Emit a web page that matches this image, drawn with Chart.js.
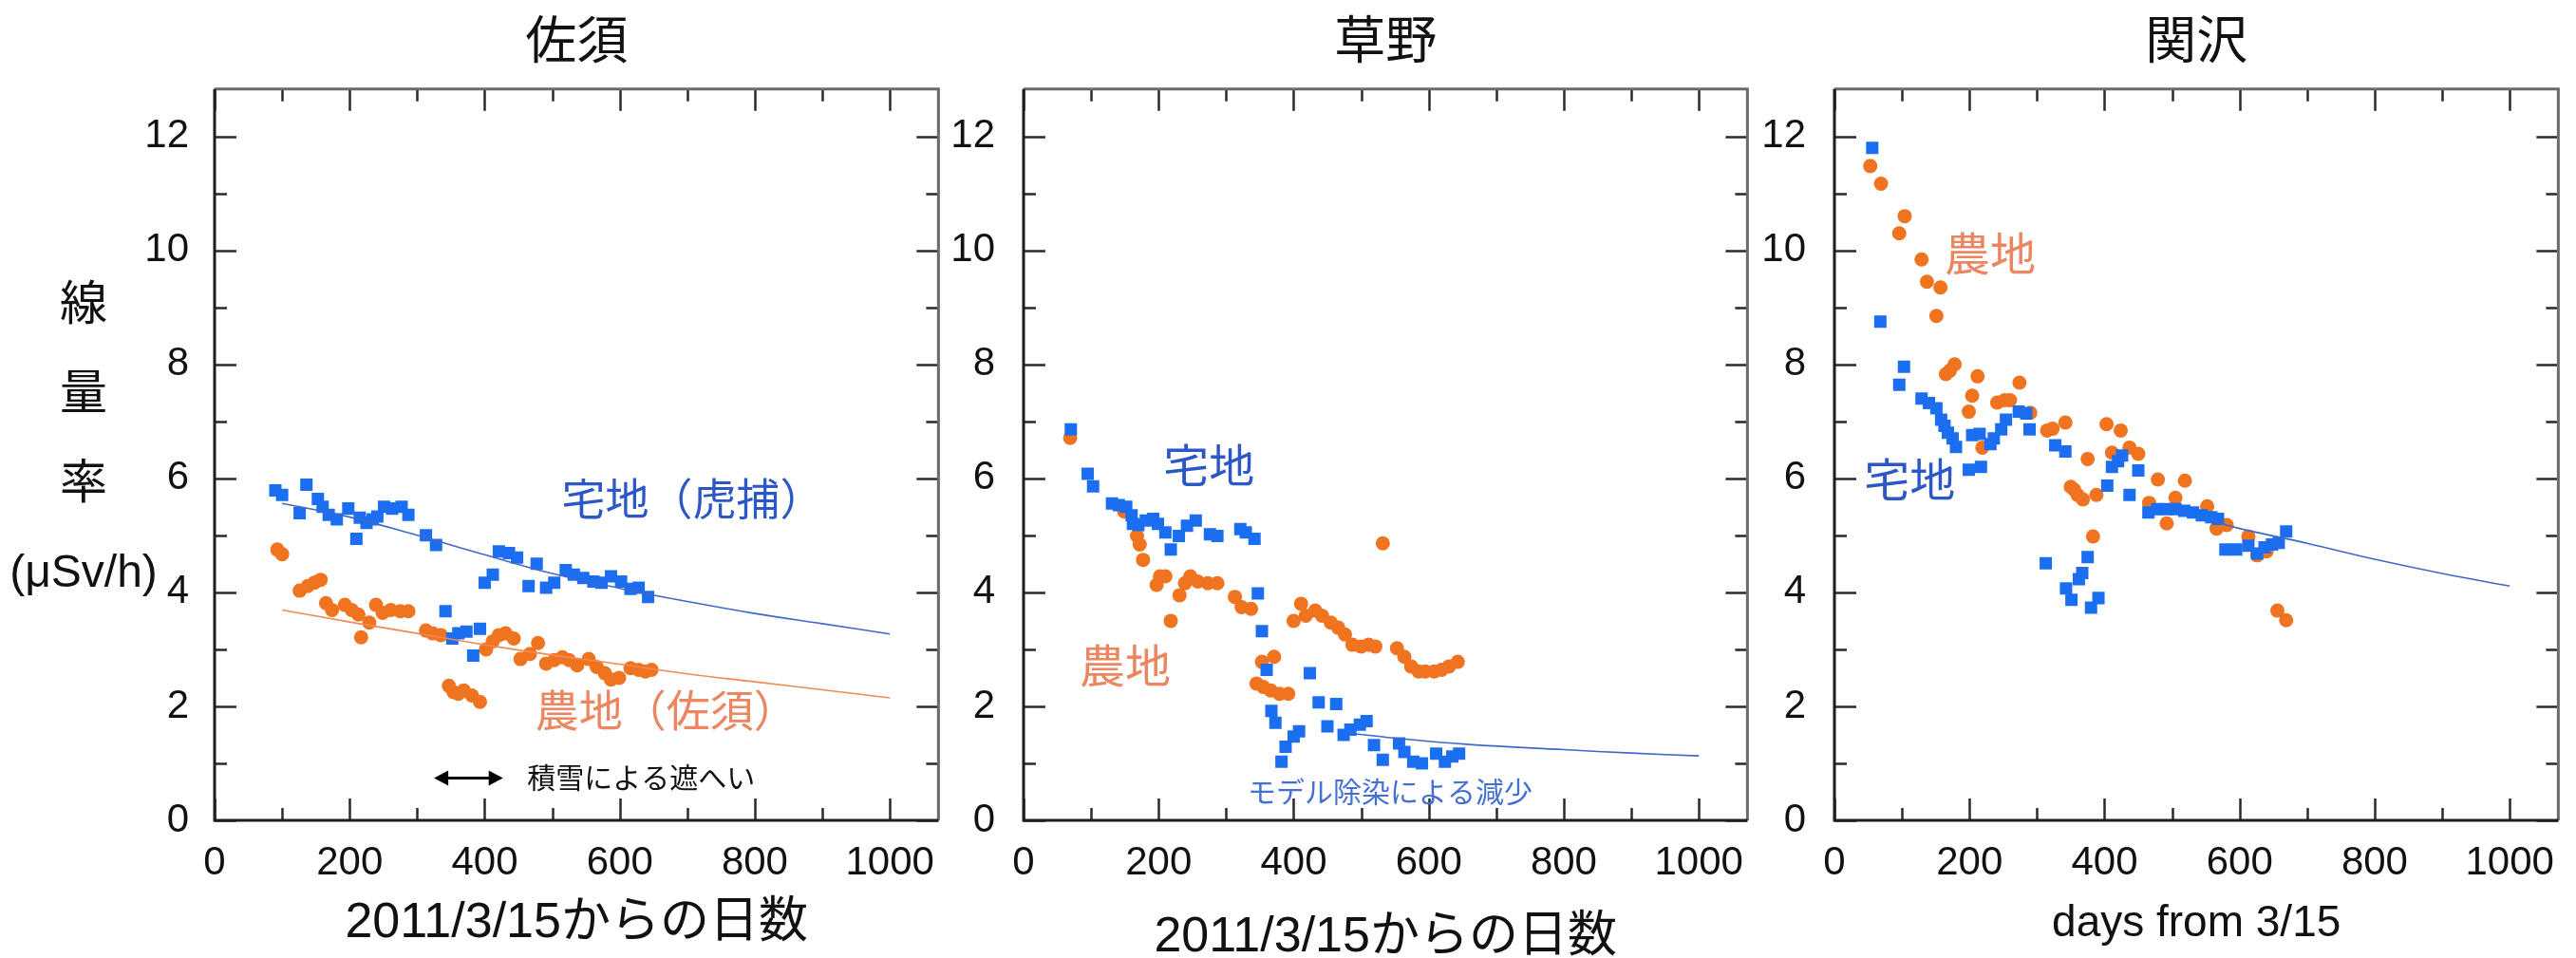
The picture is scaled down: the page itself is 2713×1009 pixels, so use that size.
<!DOCTYPE html>
<html>
<head>
<meta charset="utf-8">
<script src="https://cdn.jsdelivr.net/npm/chart.js@4.4.1/dist/chart.umd.min.js"></script>
<style>
  html, body { margin: 0; padding: 0; background: #fff; overflow: hidden; width: 2713px; height: 1009px; }
  canvas { position: absolute; top: 0; }
</style>
</head>
<body>
<canvas id="sasu" width="1005" height="1040" style="left:0px"></canvas>
<canvas id="kusano" width="859" height="1040" style="left:998px"></canvas>
<canvas id="sekizawa" width="859" height="1040" style="left:1852px"></canvas>
<script>
// ---- axes ----
const xMajorTicks = [0, 200, 400, 600, 800, 1000];
const xMinorTicks = [100, 300, 500, 700, 900];
const yMajorTicks = [0, 2, 4, 6, 8, 10, 12];
const yMinorTicks = [1, 3, 5, 7, 9, 11];
const xMax = 1072;
const yMax = 12.83;

// ---- 佐須 ----
const sasuHouseDays = [90,100,126,136,153,160,169,181,198,210,215,225,234,241,251,263,277,287,313,328,342,352,361,373,383,393,400,412,421,436,448,465,477,491,503,520,532,546,561,573,587,602,616,628,642];
const sasuHouseRate = [5.79,5.71,5.39,5.89,5.64,5.5,5.36,5.28,5.47,4.94,5.31,5.22,5.28,5.33,5.5,5.47,5.5,5.36,5.0,4.83,3.67,3.19,3.28,3.31,2.89,3.36,4.17,4.31,4.72,4.69,4.61,4.11,4.5,4.08,4.17,4.39,4.31,4.25,4.19,4.17,4.28,4.19,4.06,4.08,3.92];
const sasuFarmDays = [93,100,126,138,148,157,165,174,193,203,213,217,229,239,249,261,275,287,313,323,335,347,354,361,369,381,393,402,412,421,431,443,453,467,479,491,503,515,525,537,554,566,578,587,599,616,628,638,647];
const sasuFarmRate = [4.75,4.67,4.03,4.11,4.17,4.22,3.81,3.69,3.78,3.69,3.61,3.21,3.47,3.78,3.64,3.69,3.67,3.67,3.33,3.28,3.25,2.36,2.25,2.22,2.28,2.19,2.08,3.0,3.14,3.25,3.28,3.19,2.83,2.92,3.11,2.75,2.81,2.86,2.81,2.72,2.83,2.69,2.58,2.47,2.5,2.67,2.64,2.61,2.64];
const sasuHouseFitDays = [100,200,300,400,500,600,700,800,900,1000];
const sasuHouseFitRate = [5.56,5.32,5.0,4.66,4.33,4.07,3.84,3.63,3.45,3.27];
const sasuFarmFitDays = [100,200,300,400,500,600,700,800,900,1000];
const sasuFarmFitRate = [3.69,3.48,3.28,3.08,2.9,2.74,2.57,2.43,2.29,2.15];

// ---- 草野 ----
const kusanoHouseDays = [70,95,103,131,141,152,160,162,170,181,192,199,210,218,230,242,255,276,287,321,329,342,347,353,360,367,373,382,388,400,408,424,437,450,463,474,484,498,508,519,532,556,564,577,590,611,624,635,645];
const kusanoHouseRate = [6.86,6.08,5.86,5.56,5.53,5.5,5.35,5.2,5.18,5.26,5.29,5.2,5.05,4.75,4.99,5.17,5.26,5.02,4.99,5.11,5.05,4.94,3.98,3.32,2.64,1.92,1.71,1.03,1.29,1.47,1.56,2.58,2.07,1.65,2.04,1.5,1.59,1.68,1.74,1.32,1.06,1.35,1.2,1.03,1.0,1.17,1.03,1.12,1.17];
const kusanoFarmDays = [69,149,168,172,177,197,202,210,218,231,239,247,258,273,287,313,323,337,345,353,355,366,371,379,392,400,411,418,432,442,455,466,476,487,500,511,521,532,553,564,574,585,595,608,619,630,643];
const kusanoFarmRate = [6.71,5.42,4.99,4.84,4.57,4.13,4.28,4.28,3.5,3.95,4.16,4.28,4.19,4.16,4.16,3.92,3.74,3.71,2.4,2.78,2.34,2.28,2.87,2.22,2.22,3.5,3.8,3.59,3.68,3.59,3.47,3.38,3.26,3.08,3.05,3.08,3.05,4.86,3.02,2.87,2.7,2.61,2.61,2.61,2.64,2.7,2.78];
const kusanoHouseFitDays = [490,560,660,800,900,1000];
const kusanoHouseFitRate = [1.52,1.43,1.33,1.24,1.18,1.13];

// ---- 関沢 ----
const sekiHouseDays = [56,68,96,103,129,140,151,158,163,168,175,180,199,204,215,217,231,236,247,254,273,284,289,313,327,342,343,351,362,367,375,380,391,404,411,420,426,437,450,465,478,492,505,518,531,544,558,568,579,595,613,626,637,648,658,669];
const sekiHouseRate = [11.8,8.75,7.64,7.96,7.4,7.32,7.23,7.03,6.92,6.8,6.7,6.55,6.15,6.76,6.78,6.2,6.6,6.7,6.86,7.03,7.17,7.14,6.86,4.51,6.58,6.47,4.07,3.87,4.23,4.34,4.62,3.73,3.9,5.87,6.2,6.3,6.4,5.71,6.14,5.4,5.46,5.46,5.46,5.43,5.4,5.35,5.32,5.29,4.75,4.75,4.82,4.68,4.79,4.84,4.87,5.07];
const sekiFarmDays = [53,69,96,104,129,137,151,157,165,171,178,199,204,212,219,241,252,260,274,290,315,323,342,350,355,360,368,375,383,388,403,411,424,437,450,466,479,492,505,519,552,566,581,613,626,640,656,669];
const sekiFarmRate = [11.48,11.17,10.3,10.6,9.84,9.45,8.85,9.35,7.83,7.89,8.0,7.17,7.45,7.79,6.54,7.33,7.37,7.37,7.68,7.15,6.84,6.87,6.98,5.85,5.8,5.71,5.63,6.34,4.98,5.71,6.95,6.45,6.84,6.54,6.43,5.57,5.98,5.21,5.66,5.96,5.51,5.12,5.18,4.98,4.65,4.72,3.68,3.51];
const sekiHouseFitDays = [560,600,700,800,900,1000];
const sekiHouseFitRate = [5.25,5.12,4.86,4.58,4.33,4.11];

// ---- styling ----
const FONT = "'Liberation Sans', 'Noto Sans CJK JP', sans-serif";
const BLUE = '#1b6ef0';
const ORANGE = '#f0731f';
const BLUE_TEXT = '#2b58c6';
const ORANGE_TEXT = '#ec8660';

const pts = (xs, ys) => xs.map((d, i) => ({ x: d, y: ys[i] }));

function houseSet(xs, ys) {
  return { type: 'scatter', data: pts(xs, ys), pointStyle: 'rect', pointRadius: 9.2,
           backgroundColor: BLUE, borderWidth: 0, order: 2 };
}
function farmSet(xs, ys) {
  return { type: 'scatter', data: pts(xs, ys), pointStyle: 'circle', pointRadius: 7.5,
           backgroundColor: ORANGE, borderWidth: 0, order: 3 };
}
function fitSet(xs, ys, color) {
  return { type: 'line', data: pts(xs, ys), borderColor: color, borderWidth: 1.6,
           pointRadius: 0, tension: 0.4, fill: false, order: 1 };
}

// frame, inward ticks and in-plot labels
const decor = {
  id: 'decor',
  beforeDatasetsDraw(chart) {
    const { ctx, chartArea: a, scales: { x, y } } = chart;
    ctx.save();
    ctx.lineCap = 'butt';
    ctx.strokeStyle = '#2a2a2a';
    ctx.lineWidth = 2.5;
    const tx = (vals, len) => vals.forEach(v => {
      const p = Math.round(x.getPixelForValue(v)) + 0.5;
      ctx.beginPath();
      ctx.moveTo(p, a.bottom); ctx.lineTo(p, a.bottom - len);
      ctx.moveTo(p, a.top); ctx.lineTo(p, a.top + len);
      ctx.stroke();
    });
    const ty = (vals, len) => vals.forEach(v => {
      const p = Math.round(y.getPixelForValue(v)) + 0.5;
      ctx.beginPath();
      ctx.moveTo(a.left, p); ctx.lineTo(a.left + len, p);
      ctx.moveTo(a.right, p); ctx.lineTo(a.right - len, p);
      ctx.stroke();
    });
    tx(xMajorTicks, 23); tx(xMinorTicks, 13);
    ty(yMajorTicks, 23); ty(yMinorTicks, 13);
    ctx.lineWidth = 3;
    ctx.strokeStyle = '#6a6a6a';
    ctx.beginPath();
    ctx.moveTo(a.left, a.top); ctx.lineTo(a.right, a.top); ctx.lineTo(a.right, a.bottom);
    ctx.stroke();
    ctx.strokeStyle = '#1e1e1e';
    ctx.beginPath();
    ctx.moveTo(a.left, a.top); ctx.lineTo(a.left, a.bottom); ctx.lineTo(a.right, a.bottom);
    ctx.stroke();
    ctx.restore();
  },
  afterDatasetsDraw(chart, args, opts) {
    const { ctx, chartArea: a, scales: { x, y } } = chart;
    ctx.save();
    ctx.textBaseline = 'middle';
    (opts.labels || []).forEach(l => {
      ctx.font = `${l.size}px ${FONT}`;
      ctx.fillStyle = l.color;
      ctx.textAlign = 'left';
      ctx.fillText(l.text, x.getPixelForValue(l.x), y.getPixelForValue(l.y));
    });
    if (opts.arrow) {
      const { from, to, at } = opts.arrow;
      const x1 = x.getPixelForValue(from), x2 = x.getPixelForValue(to), py = y.getPixelForValue(at);
      ctx.strokeStyle = '#000'; ctx.fillStyle = '#000'; ctx.lineWidth = 3;
      ctx.beginPath(); ctx.moveTo(x1 + 6, py); ctx.lineTo(x2 - 6, py); ctx.stroke();
      ctx.beginPath(); ctx.moveTo(x1, py); ctx.lineTo(x1 + 15, py - 8); ctx.lineTo(x1 + 15, py + 8); ctx.closePath(); ctx.fill();
      ctx.beginPath(); ctx.moveTo(x2, py); ctx.lineTo(x2 - 15, py - 8); ctx.lineTo(x2 - 15, py + 8); ctx.closePath(); ctx.fill();
    }
    if (opts.yTitle) {
      ctx.fillStyle = '#111';
      ctx.textAlign = 'center';
      const cx = a.left - 138;
      ctx.font = `50px ${FONT}`;
      opts.yTitle.chars.forEach((c, i) => ctx.fillText(c, cx, a.top + 229 + i * 94));
      ctx.font = `48px ${FONT}`;
      ctx.fillText(opts.yTitle.unit, cx, a.top + 511);
    }
    ctx.restore();
  }
};

function makePanel(id, cfg) {
  return new Chart(document.getElementById(id), {
    data: { datasets: cfg.datasets },
    plugins: [decor],
    options: {
      responsive: false,
      animation: false,
      layout: { padding: { left: 0, right: 8, top: 0, bottom: 0 } },
      scales: {
        x: {
          type: 'linear', position: 'bottom', min: 0, max: xMax,
          afterBuildTicks: s => { s.ticks = xMajorTicks.map(v => ({ value: v })); },
          afterFit: s => { s.height = 176; },
          grid: { display: false, drawTicks: false },
          border: { display: false },
          ticks: { font: { family: FONT, size: 42 }, color: '#111', padding: 20, maxRotation: 0, autoSkip: false,
                   callback: v => String(v) },
          title: { display: true, text: cfg.xTitle, color: '#111',
                   font: { family: FONT, size: cfg.xTitleSize, lineHeight: 1.2 },
                   padding: { top: 0, bottom: cfg.xTitlePad } }
        },
        y: {
          type: 'linear', position: 'left', min: 0, max: yMax,
          afterBuildTicks: s => { s.ticks = yMajorTicks.map(v => ({ value: v })); },
          afterFit: s => { s.width = cfg.yWidth; },
          grid: { display: false, drawTicks: false },
          border: { display: false },
          ticks: { font: { family: FONT, size: 42 }, color: '#111', padding: cfg.yPad,
                   callback: v => String(v) }
        }
      },
      plugins: {
        legend: { display: false },
        tooltip: { enabled: false },
        title: { display: true, text: cfg.title, fullSize: false, color: '#111',
                 font: { family: FONT, size: 54, weight: 'normal', lineHeight: 1.2 },
                 padding: { top: 15, bottom: 14 } },
        decor: { labels: cfg.labels, arrow: cfg.arrow, yTitle: cfg.yTitle }
      }
    }
  });
}

makePanel('sasu', {
  title: '佐須',
  xTitle: '2011/3/15からの日数', xTitleSize: 52, xTitlePad: 36,
  yWidth: 226, yPad: 27,
  datasets: [
    houseSet(sasuHouseDays, sasuHouseRate),
    farmSet(sasuFarmDays, sasuFarmRate),
    fitSet(sasuHouseFitDays, sasuHouseFitRate, '#3f68c8'),
    fitSet(sasuFarmFitDays, sasuFarmFitRate, '#ef8a55')
  ],
  labels: [
    { text: '宅地（虎捕）', x: 514, y: 5.57, size: 46, color: BLUE_TEXT },
    { text: '農地（佐須）', x: 475, y: 1.86, size: 46, color: ORANGE_TEXT },
    { text: '積雪による遮へい', x: 463, y: 0.71, size: 30, color: '#111' }
  ],
  arrow: { from: 325, to: 427, at: 0.74 },
  yTitle: { chars: ['線', '量', '率'], unit: '(μSv/h)' }
});

makePanel('kusano', {
  title: '草野',
  xTitle: '2011/3/15からの日数', xTitleSize: 52, xTitlePad: 21,
  yWidth: 80, yPad: 30,
  datasets: [
    houseSet(kusanoHouseDays, kusanoHouseRate),
    farmSet(kusanoFarmDays, kusanoFarmRate),
    fitSet(kusanoHouseFitDays, kusanoHouseFitRate, '#3f68c8')
  ],
  labels: [
    { text: '宅地', x: 207, y: 6.15, size: 48, color: BLUE_TEXT },
    { text: '農地', x: 83, y: 2.64, size: 48, color: ORANGE_TEXT },
    { text: 'モデル除染による減少', x: 332, y: 0.46, size: 30, color: '#4470d4' }
  ]
});

makePanel('sekizawa', {
  title: '関沢',
  xTitle: 'days from 3/15', xTitleSize: 46, xTitlePad: 39,
  yWidth: 80, yPad: 30,
  datasets: [
    houseSet(sekiHouseDays, sekiHouseRate),
    farmSet(sekiFarmDays, sekiFarmRate),
    fitSet(sekiHouseFitDays, sekiHouseFitRate, '#3f68c8')
  ],
  labels: [
    { text: '農地', x: 163, y: 9.87, size: 48, color: ORANGE_TEXT },
    { text: '宅地', x: 44, y: 5.9, size: 48, color: BLUE_TEXT }
  ]
});
</script>
</body>
</html>
